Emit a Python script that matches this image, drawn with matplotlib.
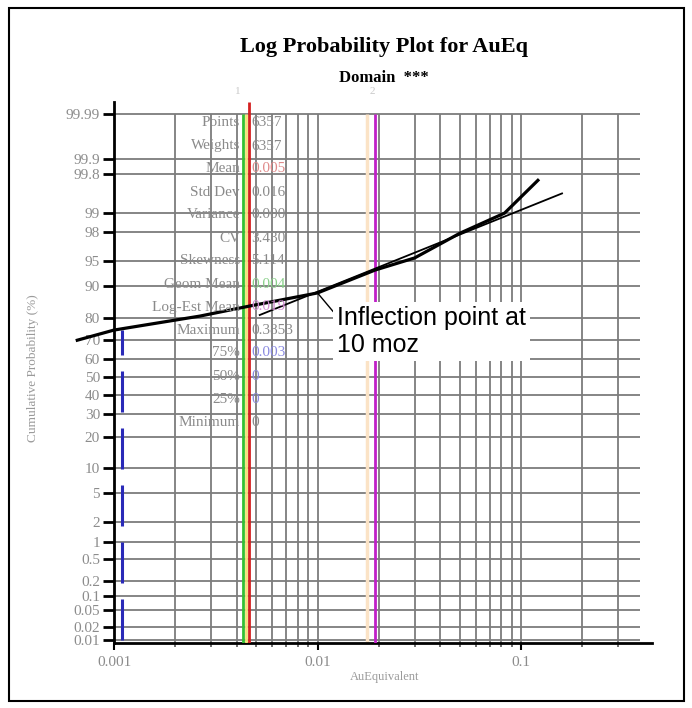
import numpy as np
import matplotlib
matplotlib.use("Agg")
import matplotlib.pyplot as plt
from matplotlib.patches import Rectangle
from matplotlib.ticker import FixedLocator, NullLocator, NullFormatter
from statistics import NormalDist

ND = NormalDist()

# ---- data -------------------------------------------------------------
prob_ticks = [0.01, 0.02, 0.05, 0.1, 0.2, 0.5, 1, 2, 5, 10, 20, 30, 40, 50,
              60, 70, 80, 90, 95, 98, 99, 99.8, 99.9, 99.99]
prob_labels = ["0.01", "0.02", "0.05", "0.1", "0.2", "0.5", "1", "2", "5", "10",
               "20", "30", "40", "50", "60", "70", "80", "90", "95", "98", "99",
               "99.8", "99.9", "99.99"]

x_major = [0.001, 0.01, 0.1]
x_major_labels = ["0.001", "0.01", "0.1"]
x_grid = [0.002, 0.003, 0.004, 0.005, 0.006, 0.007, 0.008, 0.009, 0.01,
          0.02, 0.03, 0.04, 0.05, 0.06, 0.07, 0.08, 0.09, 0.1, 0.2, 0.3]

# cumulative probability curve (AuEq value vs cumulative %)
curve_x = [0.00066, 0.001, 0.00265, 0.0046, 0.0100, 0.0192, 0.030, 0.050, 0.083, 0.121]
curve_p = [69.9, 74.7, 80.6, 84.2, 88.3, 93.5, 95.4, 97.9, 98.98, 99.73]

# straight-line fit through the upper population
fit_x = [0.0052, 0.159]
fit_p = [81.0, 99.53]

# zero-valued samples shown at the left edge
zero_x = [0.00109, 0.00109]
zero_p = [0.01, 74.6]

# summary statistics
mean_val = 0.0046
geom_mean_val = 0.0043
median_line_val = 0.00445
log_est_mean_val = 0.0192
upper_ref_val = 0.0176

stat_labels = ["Points", "Weights", "Mean", "Std Dev", "Variance", "CV",
               "Skewness", "Geom Mean", "Log-Est Mean", "Maximum", "75%",
               "50%", "25%", "Minimum"]
stat_values = ["6357", "6357", f"{mean_val:.3f}", "0.016", "0.000", "3.430",
               "5.114", f"{geom_mean_val:.3f}", f"{log_est_mean_val:.3f}",
               "0.3853", "0.003", "0", "0", "0"]
stat_colors = ["#8a8a8a", "#8a8a8a", "#e08a8a", "#8a8a8a", "#8a8a8a", "#8a8a8a",
               "#8a8a8a", "#8ad08a", "#d08ad0", "#8a8a8a", "#8a8ae0",
               "#8a8ae0", "#8a8ae0", "#8a8a8a"]

# ---- figure -----------------------------------------------------------
W, H = 692, 708
fig = plt.figure(figsize=(W / 100, H / 100), dpi=100)
fig.patch.set_facecolor("white")


def fpx(x, y):
    return x / W, 1 - y / H


ax_left, ax_right, ax_top, ax_bottom = 114, 652, 102, 643
ax = fig.add_axes([ax_left / W, 1 - ax_bottom / H,
                   (ax_right - ax_left) / W, (ax_bottom - ax_top) / H])


def to_z(p):
    p = np.clip(np.asarray(p, dtype=float), 1e-7, 100 - 1e-7)
    return np.vectorize(lambda v: ND.inv_cdf(v / 100.0), otypes=[float])(p)


def from_z(z):
    z = np.asarray(z, dtype=float)
    return np.vectorize(lambda v: ND.cdf(v) * 100.0, otypes=[float])(z)


ax.set_xscale("log")
ax.set_yscale("function", functions=(to_z, from_z))
ax.set_xlim(0.001, 0.44)
ax.set_ylim(ND.cdf(-3.76) * 100, ND.cdf(3.89) * 100)

grid_top = 99.99
grid_bottom = ax.get_ylim()[0]
grid_color = "#7c7c7c"
ax.hlines(prob_ticks, 0.001, 0.385, colors=grid_color, lw=1.3, zorder=1)
ax.vlines(x_grid, grid_bottom, grid_top, colors=grid_color, lw=1.3, zorder=1)

# statistic reference lines
ax.vlines([upper_ref_val], grid_bottom, grid_top, colors="#fbe3c6", lw=2.5, zorder=2)
ax.vlines([geom_mean_val], grid_bottom, grid_top, colors="#33c033", lw=2, zorder=3)
ax.vlines([median_line_val], grid_bottom, grid_top, colors="#f2e27a", lw=2, zorder=3)
ax.vlines([mean_val], grid_bottom, ax.get_ylim()[1], colors="#d42020", lw=2, zorder=3)
ax.vlines([log_est_mean_val], grid_bottom, grid_top, colors="#c020c8", lw=2, zorder=3)

# statistics table
label_y0, label_dy = 123, 23
for i, (lab, val, col) in enumerate(zip(stat_labels, stat_values, stat_colors)):
    yy = label_y0 + i * label_dy
    fig.text(*fpx(240, yy), lab, ha="right", va="center", fontsize=11,
             family="Liberation Serif", color="#8a8a8a", zorder=4)
    fig.text(*fpx(251, yy), val, ha="left", va="center", fontsize=11,
             family="Liberation Serif", color=col, zorder=4)

# zero-valued samples
ax.plot(zero_x, zero_p, color="#2a2ab8", lw=2.2, dashes=(41 * 0.72 / 2.2, 16 * 0.72 / 2.2),
        solid_capstyle="butt", dash_capstyle="butt", zorder=5)

# fitted line and cumulative curve
ax.plot(fit_x, fit_p, color="black", lw=1.3, zorder=6)
ax.plot(curve_x, curve_p, color="black", lw=2.3, zorder=6, clip_on=False)

# annotation
ax.annotate("Inflection point at\n10 moz", xy=(0.01, 88.3),
            xytext=(337, H - 306), textcoords="figure pixels",
            ha="left", va="top", fontsize=18, family="Liberation Sans",
            linespacing=1.15,
            bbox=dict(boxstyle="square,pad=0.15", fc="white", ec="none"),
            arrowprops=dict(arrowstyle="-", color="black", lw=1,
                            relpos=(0.0, 0.8), shrinkA=0, shrinkB=0),
            zorder=7)

# axes styling
for side in ("top", "right"):
    ax.spines[side].set_visible(False)
for side in ("left", "bottom"):
    ax.spines[side].set_linewidth(2)
    ax.spines[side].set_color("black")

ax.set_yticks(prob_ticks, labels=prob_labels)
ax.yaxis.set_minor_locator(NullLocator())
ax.tick_params(axis="y", which="major", length=8, width=2, color="black",
               labelcolor="#8c8c8c", labelsize=11, pad=2)
for t in ax.get_yticklabels():
    t.set_family("Liberation Serif")

ax.set_xticks(x_major, labels=x_major_labels)
ax.xaxis.set_minor_locator(FixedLocator(x_grid))
ax.xaxis.set_minor_formatter(NullFormatter())
ax.tick_params(axis="x", which="major", length=5, width=1.5, color="black",
               labelcolor="#8c8c8c", labelsize=11, pad=4)
ax.tick_params(axis="x", which="minor", length=3, width=1.2, color="#555555")
for t in ax.get_xticklabels():
    t.set_family("Liberation Serif")

ax.set_facecolor("white")

# titles and axis labels
fig.text(*fpx(384, 47), "Log Probability Plot for AuEq", ha="center", va="center",
         fontsize=16, fontweight="bold", family="Liberation Serif")
fig.text(*fpx(384, 78), "Domain  ***", ha="center", va="center",
         fontsize=12, fontweight="bold", family="Liberation Serif")
fig.text(*fpx(238, 92), "1", ha="center", va="center", fontsize=8,
         family="Liberation Serif", color="#c8c8c8")
fig.text(*fpx(372, 92), "2", ha="center", va="center", fontsize=8,
         family="Liberation Serif", color="#c8c8c8")
fig.text(*fpx(385, 677), "AuEquivalent", ha="center", va="center", fontsize=9,
         family="Liberation Serif", color="#9a9a9a")
fig.text(*fpx(33, 368), "Cumulative Probability (%)", ha="center", va="center",
         rotation=90, fontsize=9.5, family="Liberation Serif", color="#9a9a9a")

# outer frame
fig.patches.append(Rectangle(fpx(9, 701), (684 - 9) / W, (701 - 8) / H,
                             transform=fig.transFigure, fill=False,
                             ec="black", lw=1.5))

fig.savefig("out.png", dpi=100, facecolor="white")
